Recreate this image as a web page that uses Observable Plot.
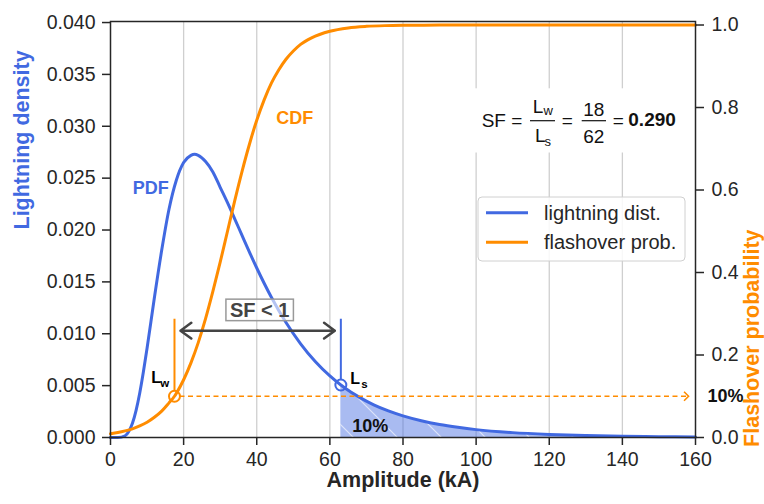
<!DOCTYPE html>
<html>
<head>
<meta charset="utf-8">
<script src="https://cdn.jsdelivr.net/npm/d3@7"></script>
<script src="https://cdn.jsdelivr.net/npm/@observablehq/plot@0.6"></script>
<style>
  html, body { margin: 0; padding: 0; background: #fff; }
  #chart svg { display: block; }
</style>
</head>
<body>
<div id="chart"></div>
<script>
// Lightning current amplitude (kA) and the density of the lightning distribution
const amplitude = [0, 2, 4, 5, 6, 7, 8, 9, 10, 12, 14, 16, 18, 20, 22, 23, 24, 26, 28, 30, 32, 34, 36, 38, 40, 44, 48, 52, 56, 60, 63, 64, 68, 72, 76, 80, 85, 90, 95, 100, 110, 120, 130, 140, 150, 160];
const lightningDensity = [0, 0.000001, 0.00017, 0.00058, 0.00137, 0.00262, 0.00429, 0.00633, 0.00861, 0.01347, 0.01804, 0.0220, 0.0248, 0.0265, 0.0272, 0.0273, 0.0272, 0.0266, 0.0256, 0.02412, 0.02264, 0.02106, 0.01946, 0.01787, 0.01634, 0.01352, 0.01108, 0.00903, 0.00732, 0.00593, 0.00506, 0.00480, 0.00389, 0.00315, 0.00256, 0.00208, 0.00161, 0.00125, 0.00098, 0.00076, 0.00047, 0.00030, 0.00019, 0.00012, 0.00008, 0.00005];

// Flashover probability of the insulation versus amplitude (kA)
const probAmplitude = [0, 2, 4, 6, 8, 10, 12, 14, 16, 17.5, 18, 20, 22, 24, 26, 28, 30, 32, 34, 36, 38, 40, 42, 44, 46, 48, 50, 52, 55, 60, 65, 70, 75, 80, 90, 100, 120, 140, 160];
const flashoverProb = [0.009, 0.012, 0.016, 0.021, 0.028, 0.037, 0.049, 0.064, 0.084, 0.100, 0.107, 0.140, 0.181, 0.230, 0.288, 0.354, 0.425, 0.500, 0.575, 0.646, 0.711, 0.769, 0.818, 0.859, 0.891, 0.917, 0.937, 0.953, 0.969, 0.985, 0.993, 0.9967, 0.9985, 0.9993, 0.9998, 1.0, 1.0, 1.0, 1.0];

// Ticks
const xTicks = [0, 20, 40, 60, 80, 100, 120, 140, 160];
const densityTicks = [0, 0.005, 0.010, 0.015, 0.020, 0.025, 0.030, 0.035, 0.040];
const probTicks = [0, 0.2, 0.4, 0.6, 0.8, 1.0];

// Withstand level Lw (10 % flashover) and stress level Ls (10 % of strokes exceed it)
const Lw = 17.5;
const Ls = 63;
const lwProb = 0.10;
const lsDensity = 0.00506;
const markerTop = 0.0114;
const arrowLevel = 0.0103;
const dashEnd = 158.1;
const tailShare = "10%";
const sfText = { lw: "18", ls: "62", sf: "0.290" };
const legendLabels = ["lightning dist.", "flashover prob."];

const blue = "#4169e1";
const orange = "#ff8c00";
const ink = "#262626";
const font = "'Liberation Sans', Arial, Helvetica, sans-serif";

const densityMax = 0.0401;
const probMax = 1.0085;
const k = densityMax / probMax; // probability -> density units on the shared y scale

const pdf = amplitude.map((a, i) => ({ a, d: lightningDensity[i] }));
const cdf = probAmplitude.map((a, i) => ({ a, p: flashoverProb[i] }));
const tail = pdf.filter((d) => d.a >= Ls);
const mid = (Lw + Ls) / 2;
const curve = "monotone-x";

// open chevron used as the head of the dashed 10 % guide
const chevron = {
  draw(ctx, size) {
    const r = Math.sqrt(size / Math.PI);
    ctx.moveTo(-r, -r);
    ctx.lineTo(0, 0);
    ctx.lineTo(-r, r);
  }
};

const chart = Plot.plot({
  width: 764,
  height: 504,
  marginLeft: 110,
  marginRight: 69,
  marginTop: 21,
  marginBottom: 67,
  style: { fontFamily: font, fontSize: "19.5px", color: ink, background: "#fff", overflow: "visible" },
  x: { domain: [0, 160] },
  y: { domain: [0, densityMax] },
  marks: [
    Plot.gridX(xTicks.slice(1, -1), { stroke: "#cfcfcf", strokeOpacity: 1, strokeWidth: 1.3 }),
    Plot.areaY(tail, { x: "a", y: "d", fill: blue, fillOpacity: 0.45, curve }),
    Plot.areaY(tail, { x: "a", y: "d", fill: "url(#tail-hatch)", curve }),
    Plot.line(pdf, { x: "a", y: "d", stroke: blue, strokeWidth: 3, curve }),
    Plot.line(cdf, { x: "a", y: (d) => d.p * k, stroke: orange, strokeWidth: 3, curve }),

    // 10 % flashover guide
    Plot.ruleY([lwProb * k], { x1: Lw, x2: dashEnd, stroke: orange, strokeWidth: 1.6, strokeDasharray: "5,3.5", insetLeft: 5.5 }),
    Plot.dot([dashEnd], { x: (d) => d, y: lwProb * k, symbol: chevron, r: 4.5, fill: "none", stroke: orange, strokeWidth: 1.6 }),

    // Lw and Ls markers
    Plot.ruleX([Lw], { x: (d) => d, y1: markerTop, y2: lwProb * k, stroke: orange, strokeWidth: 2, insetBottom: 5.5 }),
    Plot.ruleX([Ls], { x: (d) => d, y1: markerTop, y2: lsDensity, stroke: blue, strokeWidth: 2, insetBottom: 5.5 }),
    Plot.dot([Lw], { x: (d) => d, y: lwProb * k, r: 5.5, fill: "none", stroke: orange, strokeWidth: 2 }),
    Plot.dot([Ls], { x: (d) => d, y: lsDensity, r: 5.5, fill: "none", stroke: blue, strokeWidth: 2 }),

    // SF < 1 double arrow between Lw and Ls
    Plot.arrow([Lw, Ls], { x1: mid, x2: (d) => d, y1: arrowLevel, y2: arrowLevel, stroke: "#444", strokeWidth: 2.5, headLength: 8, headAngle: 72, insetEnd: 6 }),
    Plot.text(["SF < 1"], { text: (d) => d, x: mid, y: arrowLevel, dx: 2, dy: -20.4, fontWeight: "bold", fontSize: 20, fill: "#444" }),

    // point labels
    Plot.text(["L"], { text: (d) => d, x: Lw, y: lwProb * k, dx: -13.5, dy: -13.3, textAnchor: "end", lineAnchor: "bottom", fontWeight: "bold", fontSize: 16, fill: "#000" }),
    Plot.text(["w"], { text: (d) => d, x: Lw, y: lwProb * k, dx: -5.3, dy: -9.3, textAnchor: "end", lineAnchor: "bottom", fontWeight: "bold", fontSize: 11.5, fill: "#000" }),
    Plot.text(["L"], { text: (d) => d, x: Ls, y: lsDensity, dx: 9.5, dy: -1.2, textAnchor: "start", lineAnchor: "bottom", fontWeight: "bold", fontSize: 16, fill: "#000" }),
    Plot.text(["s"], { text: (d) => d, x: Ls, y: lsDensity, dx: 20.5, dy: 2.5, textAnchor: "start", lineAnchor: "bottom", fontWeight: "bold", fontSize: 11.5, fill: "#000" }),

    Plot.text([tailShare], { text: (d) => d, x: Ls, y: 0, dx: 11.5, dy: -6, textAnchor: "start", lineAnchor: "bottom", fontWeight: "bold", fontSize: 18, fill: "#111" }),
    Plot.text([tailShare], { text: (d) => d, x: 160, y: lwProb * k, dx: 12, textAnchor: "start", fontWeight: "bold", fontSize: 18, fill: "#111" }),

    Plot.text(["PDF"], { text: (d) => d, x: 6.1, y: 0.0235, textAnchor: "start", lineAnchor: "bottom", fontWeight: "bold", fontSize: 18, fill: blue }),
    Plot.text(["CDF"], { text: (d) => d, x: 45.3, y: 0.0302, textAnchor: "start", lineAnchor: "bottom", fontWeight: "bold", fontSize: 18, fill: orange }),

    Plot.frame({ stroke: ink, strokeWidth: 1.5 }),

    Plot.axisX({ ticks: xTicks, tickFormat: (d) => String(d), tickSize: 8, tickPadding: 7, strokeWidth: 1.5, label: null }),
    Plot.axisY({ ticks: densityTicks, tickFormat: d3.format(".3f"), tickSize: 8, tickPadding: 7, strokeWidth: 1.5, label: null }),
    Plot.axisY({ anchor: "right", ticks: probTicks.map((t) => t * k), tickFormat: (t) => (t / k).toFixed(1), tickSize: 8, tickPadding: 8, strokeWidth: 1.5, label: null }),

    // axis titles
    Plot.text(["Amplitude (kA)"], { text: (d) => d, frameAnchor: "bottom", dy: 49.5, fontWeight: "bold", fontSize: 21.5, fill: ink }),
    Plot.text(["Lightning density"], { text: (d) => d, frameAnchor: "left", dx: -88, rotate: -90, fontWeight: "bold", fontSize: 21.5, fill: blue }),
    Plot.text(["Flashover probability"], { text: (d) => d, frameAnchor: "right", dx: 57, rotate: -90, fontWeight: "bold", fontSize: 21.5, fill: orange })
  ]
});

document.getElementById("chart").append(chart);

const svg = d3.select(chart);
const origin = chart.getBoundingClientRect();
const boxOf = (node) => {
  const r = node.getBoundingClientRect();
  return { x: r.left - origin.left, y: r.top - origin.top, w: r.width, h: r.height };
};

// diagonal hatching for the upper 10 % tail
const defs = svg.insert("defs", ":first-child");
const hatch = defs.append("pattern")
  .attr("id", "tail-hatch")
  .attr("patternUnits", "userSpaceOnUse")
  .attr("width", 44).attr("height", 44)
  .attr("patternTransform", "translate(4,0)");
hatch.append("path")
  .attr("d", "M0,0L44,44M-4,40L4,48M40,-4L48,4")
  .attr("stroke", "#fff").attr("stroke-opacity", 0.6).attr("stroke-width", 1.2).attr("fill", "none");

// box behind "SF < 1"
const sfLabel = svg.selectAll("text").filter(function () { return this.textContent === "SF < 1"; }).node();
if (sfLabel) {
  const b = boxOf(sfLabel);
  const g = sfLabel.closest("g");
  const rect = document.createElementNS("http://www.w3.org/2000/svg", "rect");
  d3.select(rect)
    .attr("x", b.x - 4).attr("y", b.y + 0.5).attr("width", b.w + 8).attr("height", b.h - 0.5)
    .attr("fill", "#fff").attr("fill-opacity", 0.6)
    .attr("stroke", "#999").attr("stroke-width", 1.5);
  g.parentNode.insertBefore(rect, g);
}

// legend
const legend = svg.append("g").attr("font-family", font).attr("font-size", 20).attr("fill", ink);
legend.append("rect")
  .attr("x", 478).attr("y", 197).attr("width", 207).attr("height", 64).attr("rx", 4)
  .attr("fill", "#fff").attr("fill-opacity", 0.85).attr("stroke", "#d0d0d0").attr("stroke-width", 1);
[blue, orange].forEach((c, i) => {
  const yy = 212.7 + i * 29.6;
  legend.append("line").attr("x1", 486).attr("x2", 528).attr("y1", yy).attr("y2", yy)
    .attr("stroke", c).attr("stroke-width", 3);
  legend.append("text").attr("x", 544).attr("y", yy + 6.8).attr("text-anchor", "start").text(legendLabels[i]);
});

// SF = Lw / Ls = 18 / 62 = 0.290
const f = svg.append("g").attr("font-family", font).attr("font-size", 19).attr("fill", "#111").attr("text-anchor", "start");
const fBg = f.append("rect").attr("fill", "#fff");
const parts = f.append("g");
parts.append("text").attr("x", 481.7).attr("y", 127).text("SF =");
parts.append("text").attr("x", 532.7).attr("y", 113.3).text("L");
parts.append("text").attr("x", 543.6).attr("y", 115).attr("font-size", 13).text("w");
parts.append("text").attr("x", 535).attr("y", 141.7).text("L");
parts.append("text").attr("x", 544.6).attr("y", 145.5).attr("font-size", 13).text("s");
parts.append("line").attr("x1", 530).attr("x2", 555).attr("y1", 120.7).attr("y2", 120.7).attr("stroke", "#111").attr("stroke-width", 1.2);
parts.append("text").attr("x", 561.7).attr("y", 127).text("=");
parts.append("text").attr("x", 593.7).attr("y", 116).attr("text-anchor", "middle").text(sfText.lw);
parts.append("text").attr("x", 593.7).attr("y", 143.3).attr("text-anchor", "middle").text(sfText.ls);
parts.append("line").attr("x1", 581.7).attr("x2", 606).attr("y1", 120.7).attr("y2", 120.7).attr("stroke", "#111").attr("stroke-width", 1.2);
parts.append("text").attr("x", 612.7).attr("y", 127).text("=");
parts.append("text").attr("x", 628.3).attr("y", 126).attr("font-weight", "bold").text(sfText.sf);
const pb = boxOf(parts.node());
fBg.attr("x", pb.x - 7).attr("y", pb.y - 8).attr("width", pb.w + 14).attr("height", pb.h + 12);
</script>
</body>
</html>
